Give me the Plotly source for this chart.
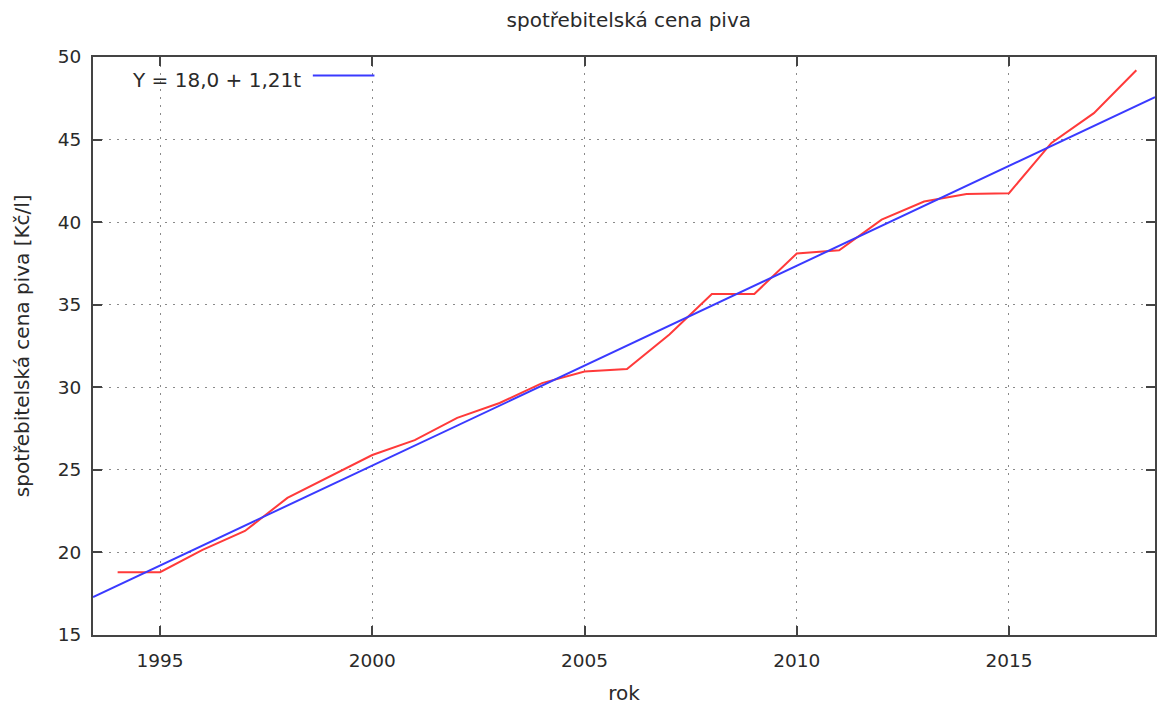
import numpy as np
import plotly.graph_objects as go

# Consumer price of beer (CZK per litre), yearly
years = list(range(1994, 2019))
price = [18.8, 18.8, 20.15, 21.3, 23.3, 24.6, 25.9, 26.8, 28.15, 29.05,
         30.25, 30.95, 31.1, 33.2, 35.65, 35.65, 38.1, 38.3, 40.15, 41.25,
         41.7, 41.75, 44.8, 46.6, 49.2]

# Linear trend Y = a + b*t, t = years since 1994
trend_a = 18.0
trend_b = 1.21
trend_label = "Y = 18,0 + 1,21t"
x_range = [1993.42, 2018.44]
y_range = [15, 50]
x_ticks = [1995, 2000, 2005, 2010, 2015]
y_ticks = [15, 20, 25, 30, 35, 40, 45, 50]

trend_x = np.array(x_range)
trend_y = trend_a + trend_b * (trend_x - 1994)

FONT = "DejaVu Sans"
TXT = "#2a2a2a"

fig = go.Figure()
fig.add_trace(go.Scatter(x=years, y=price, mode="lines",
                         line=dict(color="#ff3a3a", width=2),
                         showlegend=False))
fig.add_trace(go.Scatter(x=trend_x, y=trend_y, mode="lines",
                         line=dict(color="#3a3aff", width=2),
                         showlegend=False))

axis_common = dict(
    showline=True, linecolor="#444444", linewidth=1.8, mirror="allticks",
    ticks="inside", ticklen=9, tickwidth=1.8, tickcolor="#444444",
    showgrid=True, gridcolor="#8a8a8a", gridwidth=1, griddash="2px,6px",
    zeroline=False, tickfont=dict(family=FONT, size=18.5, color=TXT),
)

fig.update_xaxes(range=x_range, tickvals=x_ticks, ticklabelstandoff=8,
                 title=dict(text="rok", font=dict(family=FONT, size=20, color=TXT),
                            standoff=16),
                 **axis_common)
fig.update_yaxes(range=y_range, tickvals=y_ticks, ticklabelstandoff=6,
                 **axis_common)

# Vertical axis caption, placed close to the page edge
fig.add_annotation(xref="paper", yref="paper", x=-0.0667, y=0.5,
                   text="spotřebitelská cena piva [Kč/l]", textangle=-90,
                   showarrow=False, xanchor="center", yanchor="middle",
                   font=dict(family=FONT, size=20, color=TXT))

# Key: label followed by a line sample, top-left inside the frame
fig.add_annotation(xref="paper", yref="paper", x=0.198, y=0.961,
                   text=trend_label, showarrow=False, xanchor="right",
                   yanchor="middle",
                   font=dict(family=FONT, size=20, color=TXT))
fig.add_shape(type="line", xref="paper", yref="paper",
              x0=0.207, x1=0.265, y0=0.968, y1=0.968,
              line=dict(color="#3a3aff", width=2))

fig.update_layout(
    width=1158, height=706,
    margin=dict(l=93, r=1, t=57, b=71),
    paper_bgcolor="white", plot_bgcolor="white",
    title=dict(text="spotřebitelská cena piva", x=0.543, xanchor="center",
               y=0.972, yanchor="middle",
               font=dict(family=FONT, size=20, color=TXT)),
)

fig.write_html("out.html")
